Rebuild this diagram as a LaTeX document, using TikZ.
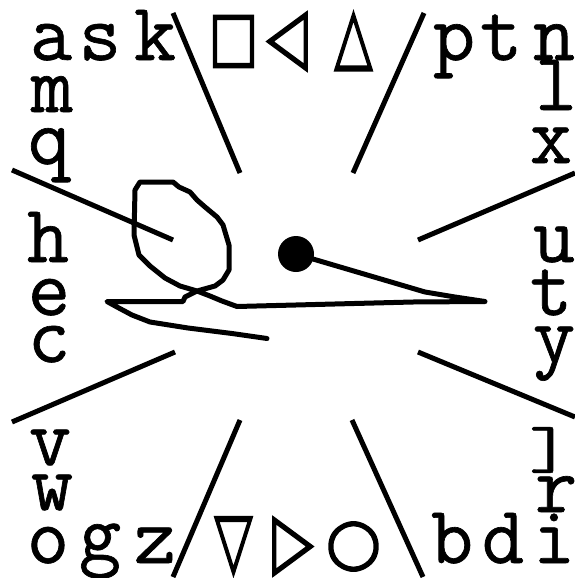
\documentclass[tikz,border=0pt]{standalone}
\usepackage{fontspec}
\setmonofont{Latin Modern Mono}[FakeBold=0.8]
\newfontfamily\symf{DejaVu Sans}[FakeBold=2.5]
\begin{document}
\begin{tikzpicture}[x=1pt,y=-1pt,
  ltr/.style={font=\ttfamily\fontsize{82}{82}\selectfont, inner sep=0pt, anchor=base},
  sym/.style={inner sep=0pt},
  zone/.style={line width=5pt},
  pen/.style={line width=5pt, line join=round, line cap=round}]
\fill[white] (0,0) rectangle (575,578);
\useasboundingbox (0,0) rectangle (575,578);
% top row
\node[ltr] (ta) at (51,60) {a};
\node[ltr] (ts) at (100,60) {s};
\node[ltr] (tk) at (155,60) {k};
\node[ltr] (tp) at (454,60) {p};
\node[ltr] (tt) at (501,60) {t};
\node[ltr] (tn) at (554,60) {n};
\node[sym] (sqr) at (233.5,41.5) {\scalebox{0.84}[1.1]{\fontsize{62}{62}\symf □}};
\node[sym] (tl) at (287,41.5) {\scalebox{0.85}[1.25]{\fontsize{62}{62}\symf ◁}};
\node[sym] (tu) at (353.5,41) {\scalebox{0.8}[1.25]{\fontsize{62}{62}\symf △}};
% left column
\node[ltr] (lm) at (52,112) {m};
\node[ltr] (lq) at (49,164) {q};
\node[ltr] (lh) at (48,262) {h};
\node[ltr] (le) at (49,315) {e};
\node[ltr] (lc) at (49,362) {c};
\node[ltr] (lv) at (50,465) {v};
\node[ltr] (lw) at (52,510) {w};
% bottom row
\node[ltr] (bo) at (48,563) {o};
\node[ltr] (bg) at (100,560) {g};
\node[ltr] (bz) at (155,563) {z};
\node[sym] (td) at (233.5,546.5) {\scalebox{0.8}[1.25]{\fontsize{62}{62}\symf ▽}};
\node[sym] (tr) at (293,546.5) {\scalebox{0.85}[1.25]{\fontsize{62}{62}\symf ▷}};
\node[sym] (ci) at (353.5,546.5) {\fontsize{64}{64}\symf ○};
\node[ltr] (bb) at (452,563) {b};
\node[ltr] (bd) at (503,563) {d};
\node[ltr] (bi) at (554,563) {i};
% right column
\node[ltr] (rl) at (556,110) {l};
\node[ltr] (rx) at (551,163) {x};
\node[ltr] (ru) at (554,262) {u};
\node[ltr] (rt) at (551,315) {t};
\node[ltr] (ry) at (554,362) {y};
\node[sym] (rb) at (550,450) {\scalebox{1}[0.72]{\ttfamily\fontsize{82}{82}\selectfont ]}};
\node[ltr] (rr) at (556,512) {r};
% zone lines
\coordinate (z1a) at (173,13);  \coordinate (z1b) at (240,173);
\coordinate (z2a) at (424,13);  \coordinate (z2b) at (353,173);
\coordinate (z3a) at (575,173); \coordinate (z3b) at (418,240);
\coordinate (z4a) at (575,417); \coordinate (z4b) at (418,352);
\coordinate (z5a) at (423,577); \coordinate (z5b) at (352,420);
\coordinate (z6a) at (173,577); \coordinate (z6b) at (240,420);
\coordinate (z7a) at (12,422);  \coordinate (z7b) at (175,352);
\coordinate (z8a) at (12,170);  \coordinate (z8b) at (173,240);
\foreach \i in {1,...,8} \draw[zone] (z\i a) -- (z\i b);
% pen stroke
\fill (296,254) circle (18);
\draw[pen] (296,254) -- (425,292) -- (455,297) -- (485,301.5) -- (413,302) -- (237,306.5)
  -- (222,301) -- (210,296) -- (197,291) -- (215,286) -- (223,280) -- (229,270) -- (229,245)
  -- (223,225) -- (217,217) -- (205,207) -- (197,200) -- (190,192) -- (179,187) -- (173,182)
  -- (140,182) -- (135,190) -- (134,235) -- (139,255) -- (150,266) -- (165,278) -- (180,286)
  -- (197,291) -- (185,297) -- (183,301.5) -- (107,301.5) -- (117,307) -- (132,315)
  -- (150,322) -- (188,328) -- (232,333.5) -- (267,338.5);
\end{tikzpicture}
\end{document}
